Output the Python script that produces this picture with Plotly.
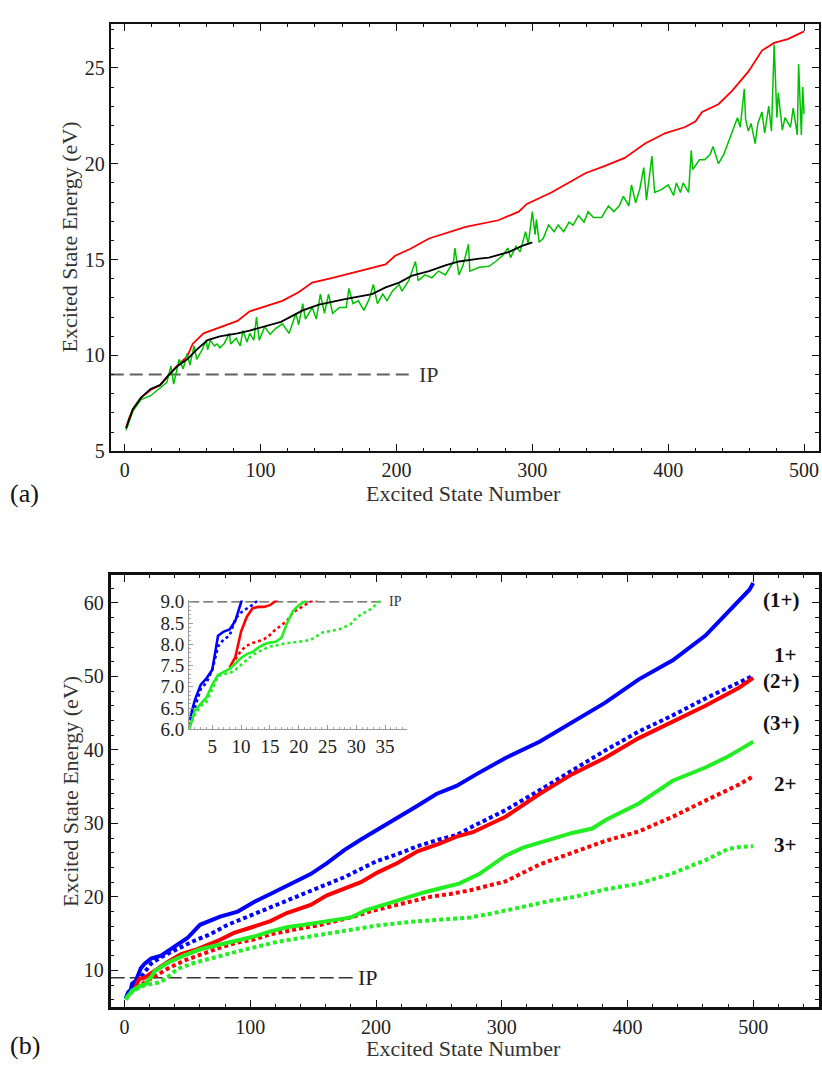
import plotly.graph_objects as go

FONT = "Liberation Serif"

# ---------------- Panel (a) data ----------------
a_red_x = [1, 3, 6, 12, 19, 26, 32, 39, 46, 50,
           58, 68, 83, 92, 105, 116, 128, 138, 153, 177,
           192, 199, 210, 224, 251, 275, 290, 296, 314, 329,
           339, 354, 368, 383, 398, 412, 420, 425, 437, 447,
           459, 469, 478, 488, 500]
a_red_y = [6.2, 6.7, 7.2, 7.8, 8.2, 8.45, 8.95, 9.5, 9.95, 10.6,
           11.15, 11.4, 11.8, 12.3, 12.6, 12.85, 13.3, 13.8, 14.05, 14.5,
           14.75, 15.2, 15.55, 16.1, 16.7, 17.05, 17.5, 17.9, 18.5, 19.1,
           19.5, 19.9, 20.3, 21.05, 21.6, 21.9, 22.2, 22.7, 23.1, 23.8,
           24.8, 25.9, 26.3, 26.5, 26.9]

a_black_x = [1, 6, 12, 19, 26, 32, 39, 46, 53, 61,
             70, 83, 92, 102, 115, 131, 143, 163, 182, 192,
             202, 211, 224, 236, 246, 261, 268, 283, 292, 300]
a_black_y = [6.2, 7.2, 7.8, 8.25, 8.45, 8.95, 9.45, 9.8, 10.3, 10.8,
             11.0, 11.15, 11.3, 11.5, 11.75, 12.35, 12.65, 12.95, 13.2, 13.55,
             13.8, 14.15, 14.4, 14.7, 14.9, 15.05, 15.1, 15.4, 15.7, 15.9]

a_green_x = [1, 6, 12, 19, 26, 31, 34, 36, 39, 40,
             43, 46, 48, 51, 53, 57, 60, 61, 63, 66,
             68, 70, 73, 77, 78, 82, 85, 87, 90, 92,
             95, 97, 99, 103, 107, 111, 116, 121, 126, 128,
             131, 133, 138, 141, 144, 147, 150, 153, 158, 163,
             165, 168, 172, 176, 180, 183, 186, 190, 193, 197,
             202, 204, 209, 214, 216, 221, 226, 231, 236, 242,
             243, 246, 249, 253, 254, 261, 268, 273, 278, 282,
             284, 288, 291, 295, 297, 300, 302, 303, 305, 308,
             312, 316, 319, 323, 327, 330, 334, 338, 341, 345,
             351, 356, 360, 364, 367, 371, 373, 376, 379, 382,
             384, 388, 390, 395, 400, 404, 406, 409, 411, 415,
             417, 418, 421, 423, 427, 431, 433, 437, 441, 444,
             448, 451, 453, 456, 457, 459, 461, 464, 466, 469,
             471, 474, 476, 478, 480, 481, 484, 486, 490, 492,
             495, 496, 498, 499, 500]
a_green_y = [6.1, 7.1, 7.7, 7.9, 8.3, 8.6, 9.45, 8.5, 9.45, 9.8,
             9.3, 10.1, 9.5, 10.5, 9.8, 10.3, 10.8, 10.3, 10.8, 10.5,
             10.6, 10.4, 10.6, 11.15, 10.6, 10.9, 10.5, 11.3, 10.7, 11.15,
             10.8, 12.0, 10.8, 11.5, 11.1, 11.4, 11.65, 11.15, 12.2, 11.6,
             12.7, 11.9, 12.5, 11.9, 13.2, 12.2, 13.2, 12.2, 12.5, 12.5,
             13.5, 12.7, 12.85, 12.35, 12.95, 13.7, 12.7, 13.2, 12.85, 13.35,
             13.7, 13.35, 13.9, 14.9, 13.9, 14.2, 14.05, 14.4, 14.2, 14.9,
             15.6, 14.2, 14.7, 15.8, 14.4, 14.6, 14.65, 14.9, 15.2, 15.6,
             15.1, 15.7, 15.4, 16.45, 15.8, 17.5, 16.3, 17.1, 15.9, 16.1,
             16.8, 16.45, 16.8, 16.45, 16.95, 16.8, 17.3, 16.95, 17.5, 17.2,
             17.2, 17.8, 17.5, 17.8, 18.3, 17.8, 18.9, 17.96, 18.65, 19.8,
             18.1, 20.4, 18.5, 18.65, 18.9, 18.35, 19.0, 18.5, 19.0, 18.5,
             20.7, 19.7, 20.0, 20.2, 20.2, 20.5, 20.9, 20.0, 20.5, 21.05,
             21.75, 22.4, 21.9, 23.9, 22.3, 21.7, 22.1, 21.05, 22.1, 22.7,
             21.6, 23.0, 21.7, 26.2, 22.4, 23.7, 21.75, 22.4, 21.9, 22.9,
             21.5, 25.2, 21.5, 24.0, 22.6]

# ---------------- Panel (b) data ----------------
b_blue_solid_x = [1, 2, 3, 4, 5, 6, 7, 8, 9, 10,
                  13, 16, 21, 29, 39, 50, 60, 76, 90, 103,
                  116, 129, 148, 161, 175, 188, 201, 217, 233, 248,
                  264, 280, 303, 330, 356, 382, 409, 436, 462, 478,
                  489, 497, 500]
b_blue_solid_y = [6.2, 6.7, 7.05, 7.2, 7.4, 8.2, 8.3, 8.35, 8.55, 9.05,
                  10.3, 10.9, 11.6, 12.0, 13.1, 14.4, 16.2, 17.3, 18.0, 19.3,
                  20.4, 21.5, 23.1, 24.6, 26.4, 27.8, 29.1, 30.7, 32.4, 34.0,
                  35.1, 36.7, 38.9, 41.1, 43.8, 46.4, 49.6, 52.2, 55.55, 58.4,
                  60.2, 61.8, 62.7]

b_blue_dot_x = [1, 2, 3, 4, 5, 6, 7, 8, 9, 10, 11, 12, 13,
                21, 29, 42, 55, 68, 82, 95, 108, 122, 135,
                148, 161, 175, 188, 201, 217, 233, 250, 264, 277,
                303, 330, 356, 382, 409, 436, 462, 489, 500]
b_blue_dot_y = [6.1, 6.5, 6.95, 7.1, 7.4, 7.95, 8.12, 8.2, 8.6, 8.75, 8.83, 8.93, 9.05,
                10.9, 11.8, 12.9, 14.0, 14.9, 16.2, 17.1, 18.0, 18.9, 19.8,
                20.7, 21.6, 22.7, 23.8, 24.9, 25.8, 26.9, 27.8, 28.4, 29.6,
                31.8, 34.5, 37.2, 39.9, 42.5, 44.7, 47.0, 49.2, 50.1]

b_red_solid_x = [8, 9, 10, 11, 12, 13, 14, 15, 16,
                 24, 34, 45, 58, 74, 87, 100, 116, 129, 148,
                 161, 175, 188, 201, 217, 233, 250, 264, 277, 303,
                 330, 356, 382, 409, 436, 462, 489, 500]
b_red_solid_y = [7.45, 7.7, 8.3, 8.65, 8.85, 8.88, 8.88, 8.92, 9.02,
                 10.0, 11.1, 12.2, 12.9, 14.0, 15.1, 15.8, 16.7, 17.8, 18.9,
                 20.2, 21.1, 22.0, 23.3, 24.6, 26.2, 27.2, 28.2, 28.8, 30.9,
                 34.0, 36.7, 38.9, 41.6, 43.8, 46.0, 48.5, 49.8]

b_red_dot_x = [9, 10, 11, 12, 13, 14, 15, 16, 17, 18, 19, 20, 21, 22,
               24, 34, 47, 61, 76, 90, 103, 116, 130, 143,
               156, 169, 182, 195, 211, 227, 243, 259, 275, 291,
               303, 330, 356, 382, 409, 436, 462, 489, 500]
b_red_dot_y = [7.65, 7.85, 7.97, 8.03, 8.07, 8.12, 8.22, 8.35, 8.45, 8.55, 8.75, 8.83, 8.9, 9.0,
               9.1, 10.2, 11.3, 12.2, 13.1, 13.8, 14.2, 14.9, 15.3, 15.8,
               16.2, 16.7, 17.3, 18.0, 18.7, 19.3, 20.0, 20.4, 20.9, 21.6,
               22.1, 24.4, 26.0, 27.6, 28.9, 30.9, 33.1, 35.3, 36.4]

b_green_solid_x = [1, 2, 3, 4, 5, 6, 7, 8, 9, 10, 11, 12, 13, 14, 15, 16, 17, 18, 19, 20, 21,
                   24, 34, 47, 61, 76, 90, 103, 116, 130, 143,
                   156, 169, 180, 192, 206, 222, 238, 252, 266, 282,
                   303, 317, 330, 356, 372, 383, 409, 425, 436, 462,
                   480, 489, 500]
b_green_solid_y = [6.0, 6.45, 6.6, 6.75, 7.05, 7.28, 7.35, 7.42, 7.55, 7.68, 7.77, 7.82, 7.92,
                   8.0, 8.04, 8.06, 8.15, 8.5, 8.78, 8.92, 9.0,
                   9.9, 11.0, 12.0, 12.9, 13.5, 14.2, 14.6, 15.3, 15.9, 16.2,
                   16.6, 16.9, 17.2, 18.2, 18.9, 19.8, 20.6, 21.2, 21.8, 23.1,
                   25.6, 26.7, 27.4, 28.7, 29.3, 30.5, 32.7, 34.5, 35.8, 37.6,
                   39.1, 40.0, 41.1]

b_green_dot_x = [1, 2, 3, 4, 5, 6, 7, 8, 9, 10, 11, 12, 13, 14, 15, 16, 17, 18, 20,
                 22, 23, 24, 25, 27, 29, 30, 31, 32, 33, 34,
                 42, 55, 68, 95, 122, 148, 175, 201, 228, 254, 275,
                 291, 317, 340, 358, 382, 409, 436, 462, 480, 490, 500]
b_green_dot_y = [6.05, 6.35, 6.55, 6.65, 6.95, 7.25, 7.3, 7.32, 7.4, 7.52, 7.62, 7.75, 7.82,
                 7.88, 7.95, 7.97, 8.0, 8.03, 8.06,
                 8.1, 8.18, 8.27, 8.3, 8.35, 8.47, 8.62, 8.72, 8.78, 8.88, 9.02,
                 10.2, 11.0, 11.6, 12.8, 13.9, 14.6, 15.4, 16.1, 16.6, 16.9, 17.2,
                 17.7, 18.7, 19.5, 20.0, 21.0, 21.8, 23.2, 25.0, 26.5, 26.8, 26.9]

b_label_text = ["(1+)", "1+", "(2+)", "(3+)", "2+", "3+"]
b_label_x = [522, 525, 522, 522, 525, 525]
b_label_y = [60.4, 52.9, 49.4, 43.6, 35.3, 27.1]

IP = 9.0
a_ip_end, a_ip_label_x = 210, 215
b_ip_end, b_ip_label_x = 182, 184
in_ip_end, in_ip_label_x = 35, 35.3

a_xrange = [-10.3, 510.7]
a_yrange = [5, 27.3]
b_xrange = [-11, 552]
b_yrange = [5, 63.8]
in_xrange = [1, 38.8]
in_yrange = [6, 9.03]

a_xticks = [0, 100, 200, 300, 400, 500]
a_yticks = [5, 10, 15, 20, 25]
b_xticks = [0, 100, 200, 300, 400, 500]
b_yticks = [10, 20, 30, 40, 50, 60]
in_xticks = [5, 10, 15, 20, 25, 30, 35]
in_yticks = [6.0, 6.5, 7.0, 7.5, 8.0, 8.5, 9.0]

BLUE = "#0000ff"
RED = "#ff0000"
GREEN_A = "#00c000"
GREEN_B = "#22ee22"

fig = go.Figure()

# Panel (a)
fig.add_trace(go.Scatter(x=[a_xrange[0], a_ip_end], y=[IP, IP], mode="lines",
                         line=dict(color="#606060", width=2, dash="13px,6px"),
                         xaxis="x", yaxis="y", showlegend=False))
fig.add_trace(go.Scatter(x=a_red_x, y=a_red_y, mode="lines",
                         line=dict(color=RED, width=1.8), xaxis="x", yaxis="y", showlegend=False))
fig.add_trace(go.Scatter(x=a_green_x, y=a_green_y, mode="lines",
                         line=dict(color=GREEN_A, width=1.5), xaxis="x", yaxis="y", showlegend=False))
fig.add_trace(go.Scatter(x=a_black_x, y=a_black_y, mode="lines",
                         line=dict(color="#000000", width=1.8), xaxis="x", yaxis="y", showlegend=False))

# Panel (b)
fig.add_trace(go.Scatter(x=[b_xrange[0], b_ip_end], y=[IP, IP], mode="lines",
                         line=dict(color="#333333", width=1.6, dash="14px,5px"),
                         xaxis="x2", yaxis="y2", showlegend=False))

b_series = [
    (b_blue_solid_x, b_blue_solid_y, BLUE, "solid"),
    (b_blue_dot_x, b_blue_dot_y, BLUE, "dot"),
    (b_red_solid_x, b_red_solid_y, RED, "solid"),
    (b_red_dot_x, b_red_dot_y, RED, "dot"),
    (b_green_solid_x, b_green_solid_y, GREEN_B, "solid"),
    (b_green_dot_x, b_green_dot_y, GREEN_B, "dot"),
]
for xs, ys, col, style in b_series:
    fig.add_trace(go.Scatter(x=xs, y=ys, mode="lines",
                             line=dict(color=col, width=4,
                                       dash="solid" if style == "solid" else "4px,3px"),
                             xaxis="x2", yaxis="y2", showlegend=False))

# Inset
fig.add_trace(go.Scatter(x=[in_xrange[0], in_ip_end], y=[IP, IP], mode="lines",
                         line=dict(color="#555555", width=1.3, dash="10px,4px"),
                         xaxis="x3", yaxis="y3", showlegend=False))
for xs, ys, col, style in b_series:
    fig.add_trace(go.Scatter(x=xs, y=ys, mode="lines",
                             line=dict(color=col, width=2.6,
                                       dash="solid" if style == "solid" else "3px,3px"),
                             xaxis="x3", yaxis="y3", showlegend=False))

tickfont = dict(family=FONT, size=20, color="#222")

def frame_axis(rng, tickvals, dom, anchor, minor_dtick, lw, ticklen):
    return dict(range=rng, domain=dom, anchor=anchor, tickvals=tickvals,
                showline=True, linecolor="#111", linewidth=lw, mirror="allticks",
                ticks="inside", ticklen=ticklen, tickwidth=1.3, tickcolor="#111",
                minor=dict(dtick=minor_dtick, ticks="inside", ticklen=ticklen / 2,
                           tickwidth=1, tickcolor="#111"),
                showgrid=False, zeroline=False, tickfont=tickfont)

W, H = 822, 1076
a_xdom = [111 / W, 820.6 / W]
a_ydom = [1 - 450.7 / H, 1 - 15 / H]
b_ydom = [1 - 1017 / H, 1 - 576.7 / H]
in_xdom = [189.7 / W, 408 / W]
in_ydom = [1 - 734 / H, 1 - 602.7 / H]

fig.update_layout(
    width=W, height=H, margin=dict(l=0, r=0, t=0, b=0), autosize=False,
    paper_bgcolor="white", plot_bgcolor="white", showlegend=False,
    xaxis=frame_axis(a_xrange, a_xticks, a_xdom, "y", 20, 2, 7),
    yaxis=frame_axis(a_yrange, a_yticks, a_ydom, "x", 1, 2, 7),
    xaxis2=frame_axis(b_xrange, b_xticks, a_xdom, "y2", 20, 3, 7),
    yaxis2=frame_axis(b_yrange, b_yticks, b_ydom, "x2", 2, 3, 7),
    xaxis3=dict(range=in_xrange, domain=in_xdom, anchor="y3", tickvals=in_xticks,
                showline=True, linecolor="#999", linewidth=1.2, ticks="inside",
                ticklen=4, tickcolor="#999", showgrid=False, zeroline=False,
                minor=dict(dtick=1, ticks="inside", ticklen=2, tickcolor="#aaa"),
                tickfont=dict(family=FONT, size=19, color="#222")),
    yaxis3=dict(range=in_yrange, domain=in_ydom, anchor="x3", tickvals=in_yticks,
                tickformat=".1f", showline=True, linecolor="#999", linewidth=1.2,
                ticks="inside", ticklen=4, tickcolor="#999", showgrid=False, zeroline=False,
                minor=dict(dtick=0.1, ticks="inside", ticklen=2, tickcolor="#aaa"),
                tickfont=dict(family=FONT, size=19, color="#222")),
)

ann = []
title_font = dict(family=FONT, size=22, color="#333")
ann.append(dict(text="Excited State Number", x=465 / W, y=1 - 494 / H, xref="paper", yref="paper",
                showarrow=False, font=title_font, xanchor="center", yanchor="middle"))
ann.append(dict(text="Excited State Energy (eV)", x=70 / W, y=1 - 232 / H, xref="paper", yref="paper",
                showarrow=False, font=title_font, textangle=-90, xanchor="center", yanchor="middle"))
ann.append(dict(text="Excited State Number", x=465 / W, y=1 - 1059 / H, xref="paper", yref="paper",
                showarrow=False, font=title_font, xanchor="center", yanchor="middle"))
ann.append(dict(text="Excited State Energy (eV)", x=70 / W, y=1 - 797 / H, xref="paper", yref="paper",
                showarrow=False, font=title_font, textangle=-90, xanchor="center", yanchor="middle"))
ann.append(dict(text="(a)", x=8 / W, y=1 - 494 / H, xref="paper", yref="paper", showarrow=False,
                font=dict(family=FONT, size=26, color="#111"), xanchor="left", yanchor="middle"))
ann.append(dict(text="(b)", x=8 / W, y=1 - 1056 / H, xref="paper", yref="paper", showarrow=False,
                font=dict(family=FONT, size=26, color="#111"), xanchor="left", yanchor="middle"))
ann.append(dict(text="IP", x=a_ip_label_x, y=IP, xref="x", yref="y", showarrow=False,
                font=dict(family=FONT, size=22, color="#333"), xanchor="left", yanchor="middle"))
ann.append(dict(text="IP", x=b_ip_label_x, y=IP, xref="x2", yref="y2", showarrow=False,
                font=dict(family=FONT, size=22, color="#222"), xanchor="left", yanchor="middle"))
ann.append(dict(text="IP", x=in_ip_label_x, y=IP, xref="x3", yref="y3", showarrow=False,
                font=dict(family=FONT, size=14, color="#333"), xanchor="left", yanchor="middle"))
for t, lx, ly in zip(b_label_text, b_label_x, b_label_y):
    ann.append(dict(text="<b>" + t + "</b>", x=lx, y=ly, xref="x2", yref="y2", showarrow=False,
                    font=dict(family=FONT, size=21, color="#111"), xanchor="center", yanchor="middle"))
fig.update_layout(annotations=ann)

fig.write_html("out.html")
